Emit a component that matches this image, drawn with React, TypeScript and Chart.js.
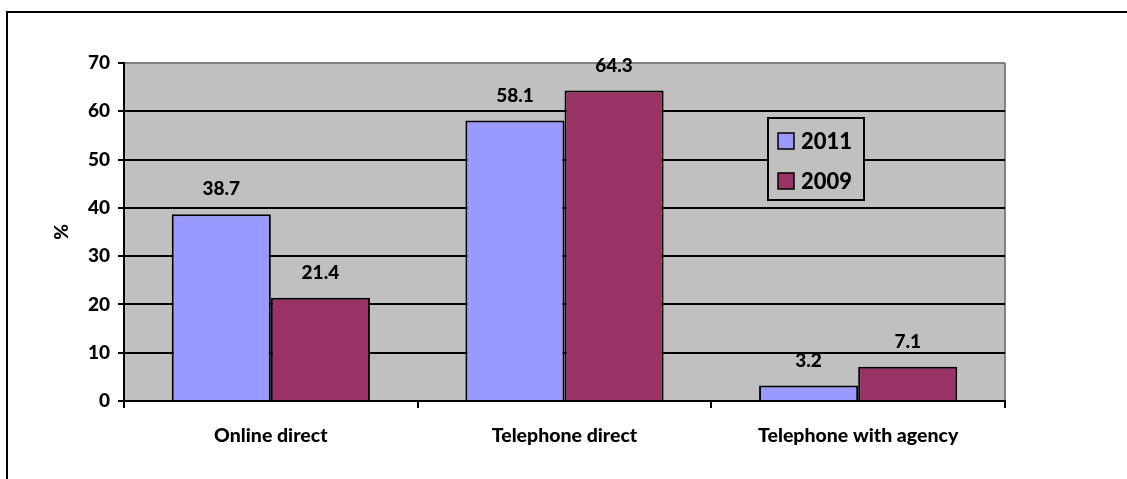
import React, { useEffect, useRef } from "react";
import { Chart, registerables } from "chart.js";

Chart.register(...registerables);

const categories = ["Online direct", "Telephone direct", "Telephone with agency"];
const values2011 = [38.7, 58.1, 3.2];
const values2009 = [21.4, 64.3, 7.1];
const seriesLabels = ["2011", "2009"];
const seriesColors = ["#9999FF", "#993366"];

const FONT = "Lato, 'Open Sans', sans-serif";
const W = "900";

const framePlugin = {
  id: "frame",
  beforeDraw(chart: any) {
    const { ctx, chartArea } = chart;
    ctx.save();
    ctx.fillStyle = "#ffffff";
    ctx.fillRect(0, 0, chart.width, chart.height);
    ctx.strokeStyle = "#000";
    ctx.lineWidth = 2;
    ctx.strokeRect(7, 12, 1300, 1000);
    ctx.fillStyle = "#C0C0C0";
    ctx.fillRect(chartArea.left, chartArea.top, chartArea.right - chartArea.left, chartArea.bottom - chartArea.top);
    ctx.strokeStyle = "#808080";
    ctx.lineWidth = 2;
    ctx.beginPath();
    ctx.moveTo(chartArea.right, chartArea.top);
    ctx.lineTo(chartArea.right, chartArea.bottom);
    ctx.stroke();
    ctx.restore();
  },
};

const labelPlugin = {
  id: "valueLabels",
  afterDatasetsDraw(chart: any) {
    const { ctx } = chart;
    ctx.save();
    ctx.font = `${W} 19px ${FONT}`;
    ctx.fillStyle = "#000";
    ctx.textAlign = "center";
    ctx.textBaseline = "middle";
    chart.data.datasets.forEach((ds: any, i: number) => {
      const meta = chart.getDatasetMeta(i);
      meta.data.forEach((el: any, j: number) => {
        ctx.fillText(String(ds.data[j]), el.x, el.y - 25);
      });
    });
    ctx.restore();
  },
};

const legendPlugin = {
  id: "boxLegend",
  afterDraw(chart: any) {
    const { ctx } = chart;
    const x0 = 768, y0 = 118, w = 96, h = 82;
    ctx.save();
    ctx.fillStyle = "#C0C0C0";
    ctx.fillRect(x0, y0, w, h);
    ctx.strokeStyle = "#000";
    ctx.lineWidth = 2;
    ctx.strokeRect(x0, y0, w, h);
    ctx.font = `${W} 22px ${FONT}`;
    ctx.textBaseline = "middle";
    ctx.textAlign = "left";
    chart.data.datasets.forEach((ds: any, i: number) => {
      const cy = y0 + 23 + i * 40;
      ctx.fillStyle = ds.backgroundColor;
      ctx.fillRect(778, cy - 8, 16, 16);
      ctx.lineWidth = 1.5;
      ctx.strokeStyle = "#000";
      ctx.strokeRect(778, cy - 8, 16, 16);
      ctx.fillStyle = "#000";
      ctx.fillText(ds.label, 801, cy + 1);
    });
    ctx.restore();
  },
};

export default function App() {
  const canvasRef = useRef<HTMLCanvasElement>(null);

  useEffect(() => {
    if (!canvasRef.current) return;
    const chart = new Chart(canvasRef.current, {
      type: "bar",
      data: {
        labels: categories,
        datasets: [
          {
            label: seriesLabels[0],
            data: values2011,
            backgroundColor: seriesColors[0],
            borderColor: "#000",
            borderWidth: 2,
            barPercentage: 1,
            categoryPercentage: 0.675,
          },
          {
            label: seriesLabels[1],
            data: values2009,
            backgroundColor: seriesColors[1],
            borderColor: "#000",
            borderWidth: 2,
            barPercentage: 1,
            categoryPercentage: 0.675,
          },
        ],
      },
      options: {
        responsive: false,
        animation: false,
        devicePixelRatio: 1,
        layout: { padding: { top: 63, right: 122, left: 0, bottom: 0 } },
        plugins: {
          legend: { display: false },
          tooltip: { enabled: false },
          title: { display: false },
        },
        scales: {
          x: {
            afterFit: (scale: any) => {
              scale.height = 78;
            },
            grid: {
              offset: true,
              drawOnChartArea: false,
              drawTicks: true,
              tickLength: 7,
              color: "#000",
              lineWidth: 2,
            },
            border: { display: true, color: "#000", width: 2 },
            ticks: {
              color: "#000",
              padding: 16,
              font: { family: FONT, size: 19.5, weight: W },
            },
          },
          y: {
            min: 0,
            max: 70,
            afterFit: (scale: any) => {
              scale.width = 124;
            },
            grid: {
              color: (c: any) => (c.tick && c.tick.value === 70 ? "#808080" : "#000"),
              tickColor: "#000",
              lineWidth: 2,
              tickLength: 6,
            },
            border: { display: true, color: "#000", width: 2 },
            ticks: {
              stepSize: 10,
              color: "#000",
              padding: 8,
              font: { family: FONT, size: 19, weight: W },
            },
            title: {
              display: true,
              text: "%",
              color: "#000",
              padding: { top: 50, bottom: 0 },
              font: { family: FONT, size: 19, weight: W },
            },
          },
        },
      },
      plugins: [framePlugin, labelPlugin, legendPlugin],
    });
    return () => chart.destroy();
  }, []);

  return (
    <div style={{ position: "absolute", left: 0, top: 0, width: 1127, height: 479 }}>
      <canvas ref={canvasRef} width={1127} height={479} style={{ display: "block" }} />
    </div>
  );
}
